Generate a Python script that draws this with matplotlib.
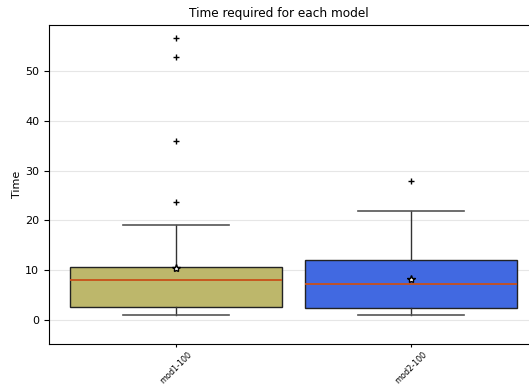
import matplotlib
matplotlib.use("Agg")
import matplotlib.pyplot as plt

# values
models = ["mod1-100", "mod2-100"]
q1 = [2.6, 2.5]
medians = [8.0, 7.2]
q3 = [10.6, 12.0]
whisker_lo = [1.0, 1.0]
whisker_hi = [19.1, 21.9]
means = [10.4, 8.2]
outliers = [[23.6, 36.0, 52.8, 56.5], [28.0]]
box_colors = ["#bdb76b", "#4169e1"]

stats = []
for i, name in enumerate(models):
    stats.append({
        "label": name,
        "q1": q1[i], "med": medians[i], "q3": q3[i],
        "whislo": whisker_lo[i], "whishi": whisker_hi[i],
        "mean": means[i], "fliers": outliers[i],
    })

fig = plt.figure(figsize=(5.29, 3.87), dpi=100)
ax = fig.add_axes([49 / 529, 1 - 344 / 387, (538 - 49) / 529, (344 - 25) / 387])

bp = ax.bxp(
    stats,
    positions=[0, 1],
    widths=0.9,
    patch_artist=True,
    showmeans=True,
    capwidths=0.45,
    boxprops=dict(edgecolor="#222222", linewidth=1.0),
    medianprops=dict(color="#c8501a", linewidth=1.3),
    whiskerprops=dict(color="#333333", linewidth=1.0),
    capprops=dict(color="#555555", linewidth=1.2),
    flierprops=dict(marker="+", markeredgecolor="black", markersize=5),
    meanprops=dict(marker="*", markerfacecolor="white", markeredgecolor="black",
                   markersize=6),
)
for patch, c in zip(bp["boxes"], box_colors):
    patch.set_facecolor(c)

ax.set_xlim(-0.54, 1.54)
ax.set_ylim(-4.8, 59.2)
ax.set_yticks([0, 10, 20, 30, 40, 50])
ax.tick_params(axis="y", labelsize=8)
ax.tick_params(axis="x", labelsize=5.8, labelrotation=45, length=2.5, pad=2)
ax.yaxis.grid(True, color="#e6e6e6", linewidth=0.8)
ax.set_axisbelow(True)
ax.spines["right"].set_visible(False)
ax.set_ylabel("Time", fontsize=8, labelpad=2)
ax.set_title("Time required for each model", fontsize=8.7, x=0.47)

fig.savefig("out.png", dpi=100)
